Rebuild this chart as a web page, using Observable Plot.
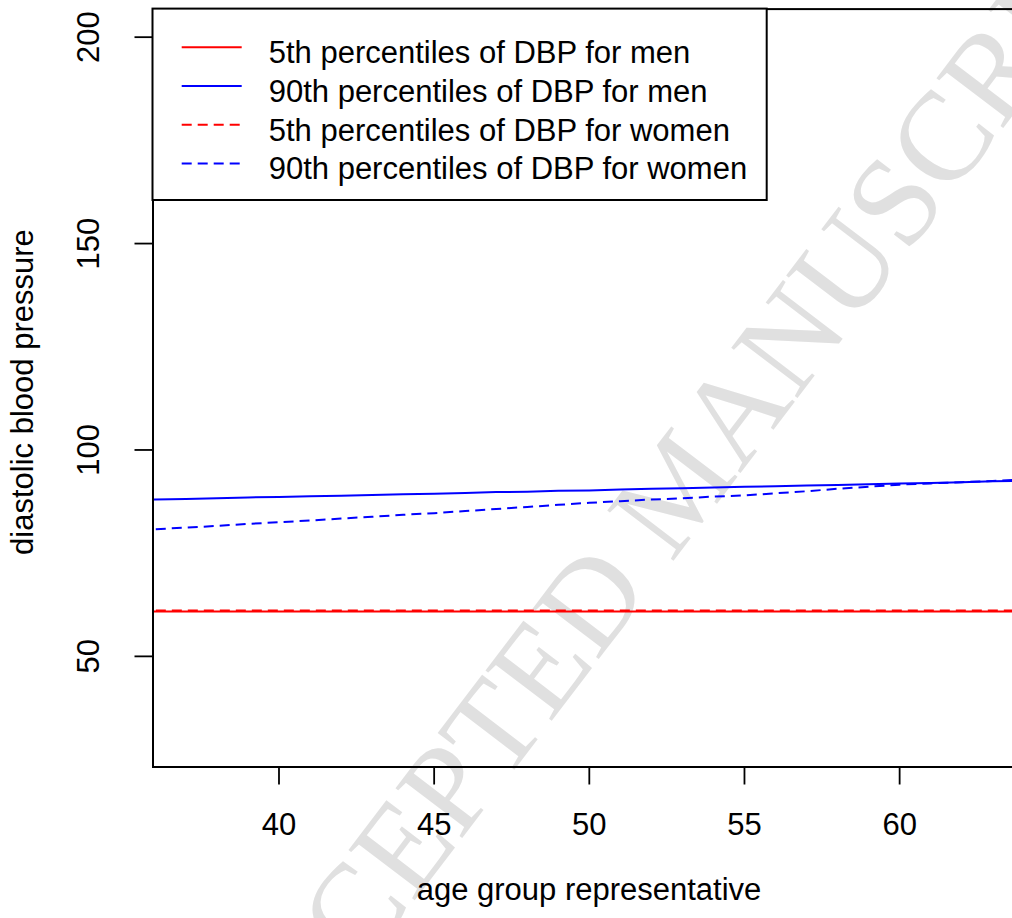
<!DOCTYPE html>
<html><head><meta charset="utf-8">
<script src="https://cdn.jsdelivr.net/npm/d3@7"></script>
<script src="https://cdn.jsdelivr.net/npm/@observablehq/plot@0.6"></script>
<style>
html,body{margin:0;padding:0;background:#fff;overflow:hidden}
#wrap{position:relative;width:1012px;height:918px;overflow:hidden}
#wm{position:absolute;left:677px;top:486px;transform:translate(-50%,-50%) rotate(-52.7deg);font-family:"Liberation Serif","DejaVu Serif",serif;font-size:127px;color:#e0e0e0;white-space:nowrap;line-height:1;z-index:0}
#chart{position:absolute;left:0;top:0;z-index:1}
</style></head><body>
<div id="wrap"><div id="wm">ACCEPTED MANUSCRIPT</div><div id="chart"></div></div>
<script>
// ---- data ----
const ages = [35,36,37,38,39,40,41,42,43,44,45,46,47,48,49,50,51,52,53,54,55,56,57,58,59,60,61,62,63,64,65];
const dbp5Men    = [60.9,60.9,60.9,60.9,60.9,60.9,60.9,60.9,60.9,60.9,60.9,60.9,60.9,60.9,60.9,60.9,60.9,60.9,60.9,60.9,60.9,60.9,60.9,60.9,60.9,60.9,60.9,60.9,60.9,60.9,60.9];
const dbp90Men   = [87.8,88.0,88.1,88.3,88.5,88.6,88.8,88.9,89.1,89.3,89.4,89.6,89.8,89.9,90.1,90.2,90.4,90.6,90.7,90.9,91.1,91.2,91.4,91.5,91.7,91.9,92.0,92.2,92.4,92.5,92.7];
const dbp5Women  = [61.1,61.1,61.1,61.1,61.1,61.1,61.1,61.1,61.1,61.1,61.1,61.1,61.1,61.1,61.1,61.1,61.1,61.1,61.1,61.1,61.1,61.1,61.1,61.1,61.1,61.1,61.1,61.1,61.1,61.1,61.1];
const dbp90Women = [80.4,80.8,81.2,81.6,82.1,82.5,82.9,83.4,83.8,84.3,84.7,85.2,85.7,86.2,86.7,87.2,87.6,88.0,88.3,88.7,89.0,89.5,90.0,90.6,91.1,91.6,91.9,92.2,92.5,92.9,93.2];
const seriesNames = ["5th percentiles of DBP for men","90th percentiles of DBP for men","5th percentiles of DBP for women","90th percentiles of DBP for women"];
const seriesValues = [dbp5Men, dbp90Men, dbp5Women, dbp90Women];
const xTicks = [40,45,50,55,60];
const yTicks = [50,100,150,200];
const xTitle = "age group representative";
const yTitle = "diastolic blood pressure";

// ---- styles ----
const seriesColors = ["#ff0000","#0000ff","#ff0000","#0000ff"];
const seriesDash = [null,null,"10,6","10,6"];
const FONT = "'Liberation Sans', Arial, Helvetica, sans-serif";
const FS = 31;

const lineMarks = seriesNames.map((name, i) =>
  Plot.line(ages.map((a, j) => ({age: a, value: seriesValues[i][j], series: name})), {
    x: "age", y: "value", stroke: seriesColors[i], strokeWidth: 2,
    strokeDasharray: seriesDash[i] ?? undefined, strokeLinecap: "butt", clip: true
  })
);

const chart = Plot.plot({
  width: 1012, height: 918,
  marginLeft: 152.5, marginRight: -12.5, marginTop: 8.6, marginBottom: 151.5,
  x: {domain: [35.94, 64.04]},
  y: {domain: [23.2, 206.8]},
  style: {background: "transparent", fontFamily: FONT, fontSize: FS + "px", color: "black"},
  marks: [
    ...lineMarks,
    Plot.frame({stroke: "black", strokeWidth: 2}),
    Plot.axisX({ticks: xTicks, tickSize: 18, tickPadding: 28, lineAnchor: "top", fontSize: FS, label: null, strokeWidth: 1.8}),
    Plot.axisY({ticks: yTicks, tickSize: 18, tickPadding: 36.5, tickRotate: -90, textAnchor: "middle", lineAnchor: "bottom", fontSize: FS, label: null, strokeWidth: 1.8}),
    Plot.text([xTitle], {frameAnchor: "bottom", dy: 133, lineAnchor: "bottom", textAnchor: "middle", fontSize: FS}),
    Plot.text([yTitle], {frameAnchor: "left", dx: -120, dy: 4, rotate: -90, lineAnchor: "bottom", textAnchor: "middle", fontSize: FS})
  ]
});
document.getElementById("chart").appendChild(chart);

// ---- legend (top-left box, R style) ----
const svg = d3.select(chart);
const lg = svg.append("g").attr("font-family", FONT).attr("font-size", FS).attr("text-anchor", "start");
lg.append("rect").attr("x", 152.5).attr("y", 8.6).attr("width", 614.2).attr("height", 191.4)
  .attr("fill", "white").attr("stroke", "black").attr("stroke-width", 2);
seriesNames.forEach((name, i) => {
  const ly = 47.3 + i * 38.7;
  lg.append("line").attr("x1", 181.7).attr("x2", 241.7).attr("y1", ly).attr("y2", ly)
    .attr("stroke", seriesColors[i]).attr("stroke-width", 2)
    .attr("stroke-dasharray", seriesDash[i]);
  lg.append("text").attr("x", 268.7).attr("y", ly + 16).attr("fill", "black")
    .attr("text-anchor", "start").text(name);
});
</script>
</body></html>
